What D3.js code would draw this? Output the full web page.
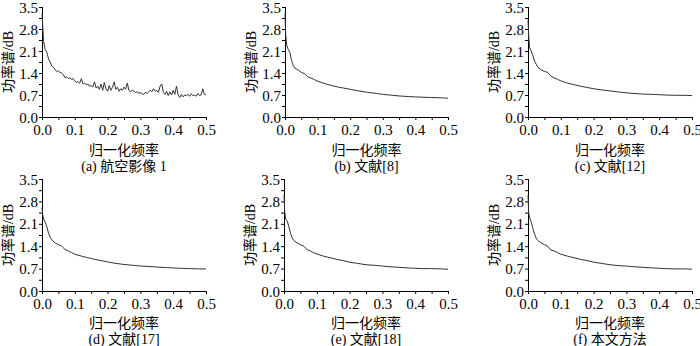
<!DOCTYPE html>
<html>
<head>
<meta charset="utf-8">
<script src="https://cdn.jsdelivr.net/npm/d3@7"></script>
<style>
body { margin: 0; background: #fff; }
</style>
</head>
<body>
<div class="spectrumChart"></div>
<script>
// normalized frequency grid for the noisy original image curve
var freqA = [0, 0.005, 0.01, 0.015, 0.02, 0.025, 0.03, 0.035, 0.04, 0.045,
    0.05, 0.055, 0.06, 0.065, 0.07, 0.075, 0.08, 0.085, 0.09, 0.095,
    0.1, 0.105, 0.11, 0.115, 0.12, 0.125, 0.13, 0.135, 0.14, 0.145,
    0.15, 0.155, 0.16, 0.165, 0.17, 0.175, 0.18, 0.185, 0.19, 0.195,
    0.2, 0.205, 0.21, 0.215, 0.22, 0.225, 0.23, 0.235, 0.24, 0.245,
    0.25, 0.255, 0.26, 0.265, 0.27, 0.275, 0.28, 0.285, 0.29, 0.295,
    0.3, 0.305, 0.31, 0.315, 0.32, 0.325, 0.33, 0.335, 0.34, 0.345,
    0.35, 0.355, 0.36, 0.365, 0.37, 0.375, 0.38, 0.385, 0.39, 0.395,
    0.4, 0.405, 0.41, 0.415, 0.42, 0.425, 0.43, 0.435, 0.44, 0.445,
    0.45, 0.455, 0.46, 0.465, 0.47, 0.475, 0.48, 0.485, 0.49, 0.495, 0.5];

var powerA = [3.3, 2.4, 2.15, 2.05, 1.85, 1.75, 1.62, 1.58, 1.5, 1.45,
    1.47, 1.42, 1.4, 1.35, 1.25, 1.28, 1.22, 1.25, 1.2, 1.22,
    1.15, 1.1, 1.12, 1.08, 1.22, 1.05, 1.08, 1.02, 1.05, 0.98,
    1.0, 0.95, 1.12, 0.92, 0.98, 0.88, 1.05, 0.85, 1.1, 0.9,
    0.82, 1.0, 0.85, 0.95, 1.12, 0.88, 0.95, 0.82, 0.9, 0.85,
    0.95, 0.88, 1.08, 0.85, 0.8, 0.85, 0.82, 0.78, 0.8, 0.76,
    0.78, 0.74, 0.72, 0.78, 0.75, 0.8, 0.85, 0.8, 0.9, 0.82,
    0.85, 0.78, 0.98, 1.05, 0.78, 0.72, 0.82, 0.68, 0.8, 0.7,
    0.85, 0.72, 0.98, 0.7, 0.62, 0.72, 0.64, 0.7, 0.68, 0.72,
    0.66, 0.74, 0.68, 0.7, 0.66, 0.75, 0.68, 0.7, 0.9, 0.72, 0.72];

// frequency grid for the smoothed results
var freqS = [0, 0.002, 0.005, 0.01, 0.015, 0.02, 0.025, 0.03, 0.04, 0.05,
    0.06, 0.07, 0.08, 0.09, 0.1, 0.12, 0.14, 0.16, 0.18, 0.2,
    0.22, 0.25, 0.28, 0.3, 0.32, 0.35, 0.38, 0.4, 0.42, 0.45, 0.48, 0.5];

var powerB = [3.3, 2.65, 2.3, 2.15, 2.05, 1.8, 1.65, 1.55, 1.5, 1.42,
    1.38, 1.28, 1.24, 1.19, 1.14, 1.07, 1.01, 0.96, 0.92, 0.88,
    0.84, 0.79, 0.75, 0.72, 0.7, 0.67, 0.65, 0.64, 0.63, 0.62, 0.61, 0.6];
var powerC = [3.1, 2.6, 2.2, 2.1, 1.95, 1.78, 1.68, 1.58, 1.5, 1.45,
    1.42, 1.3, 1.24, 1.2, 1.15, 1.08, 1.03, 0.98, 0.94, 0.9,
    0.87, 0.83, 0.79, 0.77, 0.75, 0.73, 0.72, 0.71, 0.7, 0.69, 0.69, 0.68];
var powerD = [2.6, 2.4, 2.25, 2.15, 2.0, 1.8, 1.68, 1.6, 1.5, 1.45,
    1.4, 1.3, 1.25, 1.2, 1.15, 1.09, 1.04, 0.99, 0.95, 0.91,
    0.87, 0.83, 0.8, 0.78, 0.77, 0.75, 0.73, 0.72, 0.71, 0.7, 0.69, 0.69];
var powerE = [3.0, 2.5, 2.25, 2.18, 2.0, 1.8, 1.66, 1.58, 1.5, 1.45,
    1.4, 1.3, 1.25, 1.2, 1.16, 1.09, 1.04, 0.99, 0.95, 0.9,
    0.87, 0.82, 0.8, 0.78, 0.76, 0.74, 0.72, 0.71, 0.7, 0.7, 0.69, 0.68];
var powerF = [3.0, 2.45, 2.3, 2.15, 1.95, 1.78, 1.65, 1.58, 1.5, 1.45,
    1.4, 1.28, 1.25, 1.2, 1.15, 1.09, 1.04, 0.99, 0.95, 0.9,
    0.87, 0.82, 0.79, 0.78, 0.76, 0.74, 0.72, 0.71, 0.7, 0.69, 0.69, 0.68];

var captions = ["(a) 航空影像 1", "(b) 文献[8]", "(c) 文献[12]",
    "(d) 文献[17]", "(e) 文献[18]", "(f) 本文方法"];
var xTicks = [0, 0.1, 0.2, 0.3, 0.4, 0.5];
var yTicks = [0, 0.7, 1.4, 2.1, 2.8, 3.5];
var xLabel = "归一化频率";
var yLabel = "功率谱/dB";

var serif = "'Liberation Serif', 'Times New Roman', 'Noto Sans CJK SC', serif";

var panels = [
    { freq: freqA, power: powerA, caption: captions[0], left: 42, right: 206, top: 7, bottom: 117 },
    { freq: freqS, power: powerB, caption: captions[1], left: 285, right: 448, top: 7, bottom: 117 },
    { freq: freqS, power: powerC, caption: captions[2], left: 528, right: 692, top: 7, bottom: 117 },
    { freq: freqS, power: powerD, caption: captions[3], left: 42, right: 206, top: 179, bottom: 291 },
    { freq: freqS, power: powerE, caption: captions[4], left: 284, right: 448, top: 179, bottom: 291 },
    { freq: freqS, power: powerF, caption: captions[5], left: 528, right: 692, top: 179, bottom: 291 }
];

var canvas = d3.select(".spectrumChart")
    .append("svg")
    .attr("width", 700)
    .attr("height", 346)
    .style("font-family", serif);

function isMajor(list, d) {
    return list.some(function(t) { return Math.abs(t - d) < 1e-6; });
}

panels.forEach(function(p) {
    var x = d3.scaleLinear().domain([0, 0.5]).range([p.left, p.right]);
    var y = d3.scaleLinear().domain([0, 3.5]).range([p.bottom, p.top]);

    var g = canvas.append("g");

    // ticks every half step, labels only on the major ones
    var xAxis = d3.axisBottom(x)
        .tickValues(d3.range(0, 0.5001, 0.05))
        .tickSize(3)
        .tickFormat(function(d) { return isMajor(xTicks, d) ? d3.format(".1f")(d) : ""; });
    var yAxis = d3.axisLeft(y)
        .tickValues(d3.range(0, 3.5001, 0.35))
        .tickSize(3)
        .tickFormat(function(d) { return isMajor(yTicks, d) ? d3.format(".1f")(d) : ""; });

    g.append("g")
        .attr("transform", "translate(0," + p.bottom + ")")
        .call(xAxis)
        .attr("font-family", null)
        .call(function(s) {
            s.select(".domain").attr("d", "M" + p.left + ",0.5H" + p.right);
            s.selectAll("text").attr("dy", null).attr("y", 18)
                .style("font-size", "15px").style("font-family", serif);
        });

    g.append("g")
        .attr("transform", "translate(" + p.left + ",0)")
        .call(yAxis)
        .attr("font-family", null)
        .call(function(s) {
            s.select(".domain").attr("d", "M0.5," + p.top + "V" + p.bottom);
            s.selectAll("text").attr("x", -4).attr("dy", "0.34em")
                .style("font-size", "15px").style("font-family", serif);
        });

    var line = d3.line()
        .x(function(d, i) { return x(p.freq[i]); })
        .y(function(d) { return y(d); });

    g.append("path")
        .datum(p.power)
        .attr("d", line)
        .attr("fill", "none")
        .attr("stroke", "#333")
        .attr("stroke-width", 1);

    var cx = (p.left + p.right) / 2;
    var labelOff = p.top < 100 ? 38 : 37;
    g.append("text")
        .attr("x", cx)
        .attr("y", p.bottom + labelOff)
        .style("text-anchor", "middle")
        .style("font-size", "14px")
        .style("font-family", serif)
        .text(xLabel);

    g.append("text")
        .attr("x", cx)
        .attr("y", p.bottom + labelOff + 16)
        .style("text-anchor", "middle")
        .style("font-size", "14px")
        .style("font-family", serif)
        .text(p.caption);

    g.append("text")
        .attr("transform", "translate(" + (p.left - 29) + "," + ((p.top + p.bottom) / 2) + ") rotate(-90)")
        .style("text-anchor", "middle")
        .style("font-size", "14px")
        .style("font-family", serif)
        .text(yLabel);
});
</script>
</body>
</html>
